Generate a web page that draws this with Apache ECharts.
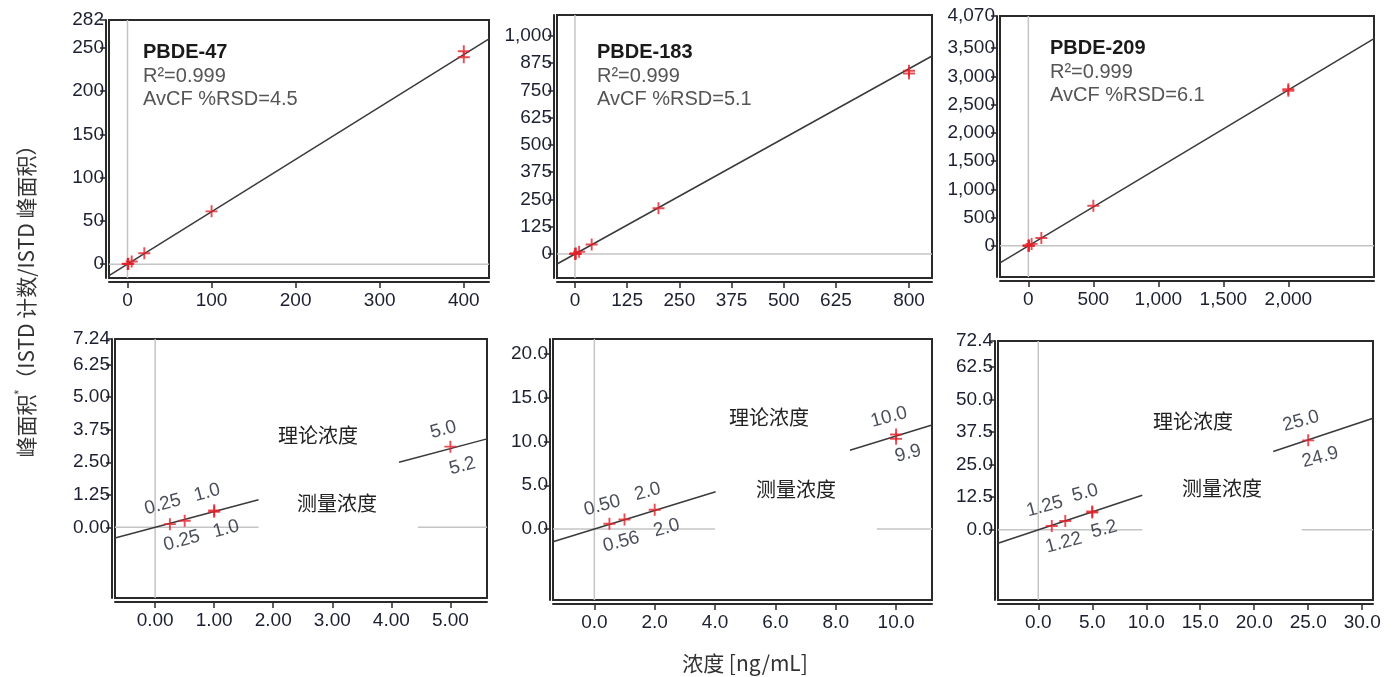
<!DOCTYPE html>
<html>
<head>
<meta charset="utf-8">
<title>PBDE calibration</title>
<script src="https://cdn.jsdelivr.net/npm/echarts@6/dist/echarts.min.js"></script>
<style>
html, body { margin: 0; padding: 0; background: #fff; }
#chart { width: 1400px; height: 677px; }
</style>
</head>
<body>
<div id="chart"></div>
<script>
// full calibration range: [concentration ng/mL, area ratio]
var pbde47Cal = [[0.25, 0.15], [0.5, 0.3], [1, 0.6], [5, 3.1], [20, 12.5], [100, 61], [400, 246], [400, 239]];
var pbde183Cal = [[0.5, 0.55], [1, 1.1], [2, 2.2], [10, 10.5], [40, 44], [200, 210], [800, 840], [800, 828]];
var pbde209Cal = [[1.25, 1.7], [2.5, 3.5], [5, 6.8], [25, 34.5], [100, 140], [500, 710], [2000, 2775], [2000, 2745]];

// low end zoom
var pbde47Low = [[0.25, 0.12], [0.5, 0.25], [1, 0.6], [1, 0.65], [5, 3.1]];
var pbde183Low = [[0.5, 0.6], [1, 1.1], [2, 2.2], [10, 10.8], [10, 10.3]];
var pbde209Low = [[1.25, 1.5], [2.5, 3.4], [5, 6.6], [5, 7.0], [25, 34.3]];

// fitted slopes (area ratio per ng/mL)
var fitSlopes = [0.605, 1.062, 1.38];

var compounds = ['PBDE-47', 'PBDE-183', 'PBDE-209'];
var r2Texts = ['R²=0.999', 'R²=0.999', 'R²=0.999'];
var rsdTexts = ['AvCF %RSD=4.5', 'AvCF %RSD=5.1', 'AvCF %RSD=6.1'];

// theoretical / measured labels in the zoomed panels
var pbde47TheoX = [0.25, 1, 5], pbde47TheoText = ['0.25', '1.0', '5.0'];
var pbde47MeasX = [0.25, 1, 5], pbde47MeasText = ['0.25', '1.0', '5.2'];
var pbde183TheoX = [0.5, 2, 10], pbde183TheoText = ['0.50', '2.0', '10.0'];
var pbde183MeasX = [0.5, 2, 10], pbde183MeasText = ['0.56', '2.0', '9.9'];
var pbde209TheoX = [1.25, 5, 25], pbde209TheoText = ['1.25', '5.0', '25.0'];
var pbde209MeasX = [1.25, 5, 25], pbde209MeasText = ['1.22', '5.2', '24.9'];

// tick values and labels
var p1XTicks = [0, 100, 200, 300, 400], p1XLabels = ['0', '100', '200', '300', '400'];
var p1YTicks = [0, 50, 100, 150, 200, 250, 282], p1YLabels = ['0', '50', '100', '150', '200', '250', '282'];
var p2XTicks = [0, 125, 250, 375, 500, 625, 800], p2XLabels = ['0', '125', '250', '375', '500', '625', '800'];
var p2YTicks = [0, 125, 250, 375, 500, 625, 750, 875, 1000], p2YLabels = ['0', '125', '250', '375', '500', '625', '750', '875', '1,000'];
var p3XTicks = [0, 500, 1000, 1500, 2000], p3XLabels = ['0', '500', '1,000', '1,500', '2,000'];
var p3YTicks = [0, 500, 1000, 1500, 2000, 2500, 3000, 3500, 4070];
var p3YLabels = ['0', '500', '1,000', '1,500', '2,000', '2,500', '3,000', '3,500', '4,070'];
var p4XTicks = [0, 1, 2, 3, 4, 5], p4XLabels = ['0.00', '1.00', '2.00', '3.00', '4.00', '5.00'];
var p4YTicks = [0, 1.25, 2.5, 3.75, 5, 6.25, 7.24], p4YLabels = ['0.00', '1.25', '2.50', '3.75', '5.00', '6.25', '7.24'];
var p5XTicks = [0, 2, 4, 6, 8, 10], p5XLabels = ['0.0', '2.0', '4.0', '6.0', '8.0', '10.0'];
var p5YTicks = [0, 5, 10, 15, 20], p5YLabels = ['0.0', '5.0', '10.0', '15.0', '20.0'];
var p6XTicks = [0, 5, 10, 15, 20, 25, 30], p6XLabels = ['0.0', '5.0', '10.0', '15.0', '20.0', '25.0', '30.0'];
var p6YTicks = [0, 12.5, 25, 37.5, 50, 62.5, 72.4], p6YLabels = ['0.0', '12.5', '25.0', '37.5', '50.0', '62.5', '72.4'];

var numFont = '"Liberation Sans", Arial, sans-serif';
var cjkFont = '"Noto Sans CJK SC", sans-serif';
var plusPath = 'path://M4.2,0h1.6v4.2h4.2v1.6h-4.2v4.2h-1.6v-4.2h-4.2v-1.6h4.2z';

var panels = [
	{ box: [109, 20, 380, 258], xr: [-22, 430], yr: [-16, 282], pts: pbde47Cal, k: 0,
	  xt: p1XTicks, xl: p1XLabels, yt: p1YTicks, yl: p1YLabels, fitSegs: [[-22, 430]], zeroSegs: [[-22, 430]] },
	{ box: [557, 15, 375, 263], xr: [-43, 855], yr: [-110, 1096], pts: pbde183Cal, k: 1,
	  xt: p2XTicks, xl: p2XLabels, yt: p2YTicks, yl: p2YLabels, fitSegs: [[-43, 855]], zeroSegs: [[-43, 855]] },
	{ box: [1000, 16, 374, 261], xr: [-218, 2659], yr: [-552, 4070], pts: pbde209Cal, k: 2,
	  xt: p3XTicks, xl: p3XLabels, yt: p3YTicks, yl: p3YLabels, fitSegs: [[-218, 2659]], zeroSegs: [[-218, 2659]] },
	{ box: [115, 339, 372, 259], xr: [-0.68, 5.62], yr: [-2.72, 7.24], pts: pbde47Low, k: 0,
	  xt: p4XTicks, xl: p4XLabels, yt: p4YTicks, yl: p4YLabels,
	  fitSegs: [[-0.68, 1.75], [4.13, 5.62]], zeroSegs: [[-0.68, 1.75], [4.45, 5.62]],
	  theoX: pbde47TheoX, theoText: pbde47TheoText, measX: pbde47MeasX, measText: pbde47MeasText },
	{ box: [553, 339, 379, 261], xr: [-1.37, 11.19], yr: [-8.1, 21.7], pts: pbde183Low, k: 1,
	  xt: p5XTicks, xl: p5XLabels, yt: p5YTicks, yl: p5YLabels,
	  fitSegs: [[-1.37, 4.02], [8.47, 11.19]], zeroSegs: [[-1.37, 4.0], [9.36, 11.19]],
	  theoX: pbde183TheoX, theoText: pbde183TheoText, measX: pbde183MeasX, measText: pbde183MeasText },
	{ box: [998, 341, 375, 259], xr: [-3.73, 31.0], yr: [-26.9, 72.4], pts: pbde209Low, k: 2,
	  xt: p6XTicks, xl: p6XLabels, yt: p6YTicks, yl: p6YLabels,
	  fitSegs: [[-3.73, 9.63], [21.76, 31.0]], zeroSegs: [[-3.73, 9.63], [24.4, 31.0]],
	  theoX: pbde209TheoX, theoText: pbde209TheoText, measX: pbde209MeasX, measText: pbde209MeasText }
];

function labelFmt(ticks, labels) {
	return function (v) {
		for (var i = 0; i < ticks.length; i++) {
			if (Math.abs(ticks[i] - v) < 1e-9) return labels[i];
		}
		return '';
	};
}

function plainLine(xi, data, color, width, z) {
	return {
		type: 'line', xAxisIndex: xi, yAxisIndex: xi, data: data,
		symbol: 'none', silent: true, animation: false, z: z,
		lineStyle: { color: color, width: width }
	};
}

function labelSeries(xi, xs, texts, slope, offset) {
	var data = [];
	for (var i = 0; i < xs.length; i++) data.push([xs[i], slope * xs[i], texts[i]]);
	return {
		type: 'scatter', xAxisIndex: xi, yAxisIndex: xi, data: data,
		symbolSize: 1, itemStyle: { color: 'rgba(0,0,0,0)' }, silent: true, animation: false, z: 6,
		encode: { x: 0, y: 1 },
		label: {
			show: true, position: 'inside', rotate: 15, offset: offset,
			formatter: function (p) { return p.value[2]; },
			color: '#1c2030', fontSize: 19, fontFamily: numFont
		}
	};
}

var grids = [], xAxes = [], yAxes = [], series = [];

panels.forEach(function (p, i) {
	var slope = fitSlopes[p.k];
	grids.push({
		left: p.box[0], top: p.box[1], width: p.box[2], height: p.box[3],
		show: true, borderColor: '#2a2a2a', borderWidth: 2, backgroundColor: '#fff'
	});
	xAxes.push({
		gridIndex: i, type: 'value', min: p.xr[0], max: p.xr[1], offset: 4,
		axisLine: { show: true, onZero: false, lineStyle: { color: '#2a2a2a', width: 2 } },
		axisTick: { show: true, length: 6, customValues: p.xt, lineStyle: { color: '#2a2a2a', width: 1.5 } },
		axisLabel: { customValues: p.xt, formatter: labelFmt(p.xt, p.xl), color: '#1c2030', fontSize: 19, fontFamily: numFont, margin: 9 },
		splitLine: { show: false }
	});
	yAxes.push({
		gridIndex: i, type: 'value', min: p.yr[0], max: p.yr[1], offset: 3,
		axisLine: { show: true, onZero: false, lineStyle: { color: '#2a2a2a', width: 2 } },
		axisTick: { show: true, length: 6, customValues: p.yt, lineStyle: { color: '#2a2a2a', width: 1.5 } },
		axisLabel: { customValues: p.yt, formatter: labelFmt(p.yt, p.yl), color: '#1c2030', fontSize: 19, fontFamily: numFont, margin: 2 },
		splitLine: { show: false }
	});

	// zero reference lines
	series.push(plainLine(i, [[0, p.yr[0]], [0, p.yr[1]]], '#c4c4c4', 1.5, 1));
	p.zeroSegs.forEach(function (s) {
		series.push(plainLine(i, [[s[0], 0], [s[1], 0]], '#c4c4c4', 1.5, 1));
	});
	// fitted line
	p.fitSegs.forEach(function (s) {
		series.push(plainLine(i, [[s[0], slope * s[0]], [s[1], slope * s[1]]], '#3a3a3a', 1.5, 2));
	});
	// measured points
	series.push({
		type: 'scatter', xAxisIndex: i, yAxisIndex: i, data: p.pts,
		symbol: plusPath, symbolSize: 12, itemStyle: { color: '#e3202b' }, animation: false, z: 5
	});
	if (p.theoX) {
		series.push(labelSeries(i, p.theoX, p.theoText, slope, [-2, -20]));
		series.push(labelSeries(i, p.measX, p.measText, slope, [7, 20]));
	}
});

var graphics = [];
// compound annotations, top row
var annoPos = [[143, 52], [597, 52], [1050, 48]];
annoPos.forEach(function (a, k) {
	graphics.push({ type: 'text', x: a[0], y: a[1], style: { text: compounds[k], font: 'bold 20px ' + numFont, fill: '#1a1a1a', textVerticalAlign: 'middle' } });
	graphics.push({ type: 'text', x: a[0], y: a[1] + 24, style: { text: r2Texts[k], font: '20px ' + numFont, fill: '#555', textVerticalAlign: 'middle' } });
	graphics.push({ type: 'text', x: a[0], y: a[1] + 47, style: { text: rsdTexts[k], font: '20px ' + numFont, fill: '#555', textVerticalAlign: 'middle' } });
});
// 理论浓度 / 测量浓度 tags, bottom row
var tagPos = [[[318, 435], [337, 503]], [[769, 417], [796, 489]], [[1193, 421], [1222, 488]]];
tagPos.forEach(function (t) {
	graphics.push({ type: 'text', x: t[0][0], y: t[0][1], style: { text: '理论浓度', font: '20px ' + cjkFont, fill: '#222', textAlign: 'center', textVerticalAlign: 'middle' } });
	graphics.push({ type: 'text', x: t[1][0], y: t[1][1], style: { text: '测量浓度', font: '20px ' + cjkFont, fill: '#222', textAlign: 'center', textVerticalAlign: 'middle' } });
});
// shared axis titles
graphics.push({
	type: 'text', x: 26, y: 296, rotation: Math.PI / 2,
	style: {
		text: '峰面积{s|*}（ISTD 计数/ISTD 峰面积）', font: '21px ' + cjkFont, fill: '#333',
		textAlign: 'center', textVerticalAlign: 'middle',
		rich: { s: { fontSize: 12, fontFamily: numFont, verticalAlign: 'top', padding: [0, 0, 12, 0] } }
	}
});
graphics.push({
	type: 'text', x: 745, y: 663,
	style: { text: '浓度 [ng/mL]', font: '21px ' + cjkFont, fill: '#333', textAlign: 'center', textVerticalAlign: 'middle' }
});

var myChart = echarts.init(document.getElementById('chart'), null, { renderer: 'canvas' });
myChart.setOption({
	animation: false,
	backgroundColor: '#fff',
	grid: grids,
	xAxis: xAxes,
	yAxis: yAxes,
	series: series,
	graphic: graphics
});
</script>
</body>
</html>
